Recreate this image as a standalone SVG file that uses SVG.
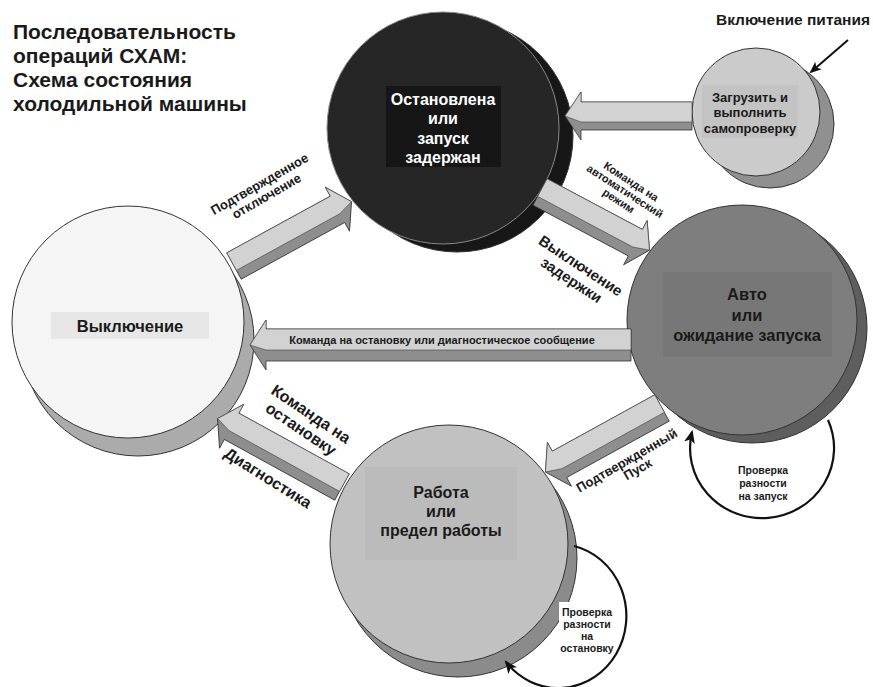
<svg xmlns="http://www.w3.org/2000/svg" width="873" height="687" viewBox="0 0 873 687">
<style>
text{font-family:"Liberation Sans",Arial,sans-serif;font-weight:bold;fill:#1a1a1a}
.title{font-size:21px}
.ctr{text-anchor:middle}
.ln{stroke:#333;stroke-width:1}
.adk{fill:#8e8e8e;stroke:#333;stroke-width:0.8;stroke-linejoin:round}
.alt{fill:#d2d2d2;stroke:#444;stroke-width:0.6;stroke-linejoin:round}
.loop{fill:none;stroke:#111;stroke-width:2.2}
.wt{fill:#fff}
</style>
<defs>
<marker id="ah" viewBox="0 0 12 10" refX="10" refY="5" markerWidth="6" markerHeight="5" orient="auto" markerUnits="strokeWidth">
<path d="M0,0 L12,5 L0,10 L3,5 Z" fill="#111"/>
</marker>
</defs>
<rect width="873" height="687" fill="#fff"/>

<g id="title">
<text class="title" x="13" y="39">Последовательность</text>
<text class="title" x="13" y="63">операций СХАМ:</text>
<text class="title" x="13" y="87">Схема состояния</text>
<text class="title" x="13" y="111">холодильной машины</text>
</g>

<g id="node-off">
<circle cx="138" cy="340" r="116" fill="#ababab" class="ln"/>
<circle cx="128" cy="322" r="116" fill="#f5f5f5" class="ln"/>
<rect x="51" y="312" width="158" height="27" fill="#e7e7e7"/>
<text class="ctr" x="130" y="331.5" font-size="16.5">Выключение</text>
</g>

<g id="node-stopped">
<circle cx="457" cy="136" r="116" fill="#171717" class="ln"/>
<circle cx="443" cy="128" r="116" fill="#262626" stroke="#8a8a8a" stroke-width="1"/>
<rect x="386" y="86" width="115" height="81" fill="#161616"/>
<text class="ctr wt" x="443" y="105" font-size="16">Остановлена</text>
<text class="ctr wt" x="443" y="124" font-size="16">или</text>
<text class="ctr wt" x="443" y="144" font-size="16">запуск</text>
<text class="ctr wt" x="443" y="163" font-size="16">задержан</text>
</g>

<g id="node-boot">
<circle cx="770" cy="124" r="64" fill="#909090" class="ln"/>
<circle cx="756" cy="112" r="64" fill="#cbcbcb" class="ln"/>
<rect x="702" y="85" width="96" height="53" fill="#c3c3c3"/>
<text class="ctr" x="750" y="102" font-size="13">Загрузить и</text>
<text class="ctr" x="750" y="117" font-size="13">выполнить</text>
<text class="ctr" x="750" y="133" font-size="13">самопроверку</text>
</g>

<g id="node-auto">
<circle cx="752" cy="328" r="115" fill="#5e5e5e" class="ln"/>
<circle cx="742" cy="320" r="115" fill="#7e7e7e" class="ln"/>
<rect x="663" y="272" width="169" height="85" fill="#777"/>
<text class="ctr" x="747" y="300" font-size="16.5">Авто</text>
<text class="ctr" x="747" y="321" font-size="16.5">или</text>
<text class="ctr" x="747" y="341" font-size="16.5">ожидание запуска</text>
</g>

<g id="node-run">
<circle cx="458" cy="558" r="119" fill="#8b8b8b" class="ln"/>
<circle cx="449" cy="544" r="119" fill="#c1c1c1" class="ln"/>
<rect x="365" y="467" width="152" height="93" fill="#bbb"/>
<text class="ctr" x="441" y="498" font-size="16">Работа</text>
<text class="ctr" x="441" y="517" font-size="16">или</text>
<text class="ctr" x="441" y="536" font-size="16">предел работы</text>
</g>

<g id="connectors">
<g transform="translate(692,116) scale(-1,1)">
<path class="adk" d="M0,-14 H111 V-24 L127,0 L111,24 V14 H0 Z"/>
<path class="alt" d="M0,-14 H111 V-24 L127,0 L111,6 H0 Z"/>
</g>
<g transform="translate(540,192) rotate(28)">
<path class="adk" d="M0,-15 H108 V-25 L124,0 L108,25 V15 H0 Z"/>
<path class="alt" d="M0,-15 H108 V-25 L124,0 L108,5 H0 Z"/>
</g>
<g transform="translate(234,266) rotate(-28.7)">
<path class="adk" d="M0,-15 H118 V-25 L134,0 L118,25 V15 H0 Z"/>
<path class="alt" d="M0,-15 H118 V-25 L134,0 L118,5 H0 Z"/>
</g>
<g transform="translate(631,345) scale(-1,1)">
<path class="adk" d="M0,-16 H365 V-25 L381,0 L365,25 V16 H0 Z"/>
<path class="alt" d="M0,-16 H365 V-25 L381,0 L365,5 H0 Z"/>
</g>
<g transform="translate(342,487) rotate(208.8) scale(1,-1)">
<path class="adk" d="M0,-15 H126 V-25 L142,0 L126,25 V15 H0 Z"/>
<path class="alt" d="M0,-15 H126 V-25 L142,0 L126,5 H0 Z"/>
</g>
<g transform="translate(662,408) rotate(151.2) scale(1,-1)">
<path class="adk" d="M0,-15 H117 V-25 L133,0 L117,25 V15 H0 Z"/>
<path class="alt" d="M0,-15 H117 V-25 L133,0 L117,5 H0 Z"/>
</g>
<line x1="848" y1="40" x2="811" y2="72" stroke="#111" stroke-width="2" marker-end="url(#ah)"/>
<path class="loop" d="M828,420 A72 70 0 1 1 692,432" marker-end="url(#ah)"/>
<path class="loop" d="M574,546 A68 72 0 1 1 506,662" marker-end="url(#ah)"/>
</g>

<g id="labels">
<text class="ctr" x="793" y="25" font-size="15.5">Включение питания</text>
<text class="ctr" x="442" y="344" font-size="11">Команда на остановку или диагностическое сообщение</text>
<g transform="translate(263,190) rotate(-30)">
<text class="ctr" x="0" y="-2.5" font-size="13">Подтвержденное</text>
<text class="ctr" x="0" y="11.5" font-size="13">отключение</text>
</g>
<g transform="translate(625,191) rotate(33)">
<text class="ctr" x="0" y="-7.5" font-size="11">Команда на</text>
<text class="ctr" x="0" y="4" font-size="11">автоматический</text>
<text class="ctr" x="0" y="15.5" font-size="11">режим</text>
</g>
<g transform="translate(576,273) rotate(33.5)">
<text class="ctr" x="0" y="-3.5" font-size="15">Выключение</text>
<text class="ctr" x="0" y="13.5" font-size="15">задержки</text>
</g>
<g transform="translate(630,466) rotate(-30)">
<text class="ctr" x="0" y="-2" font-size="13">Подтвержденный</text>
<text class="ctr" x="5" y="11" font-size="13">Пуск</text>
</g>
<g transform="translate(306,421.5) rotate(34)">
<text class="ctr" x="0" y="-3.5" font-size="16">Команда на</text>
<text class="ctr" x="0" y="14.5" font-size="16">остановку</text>
</g>
<g transform="translate(268,478) rotate(32)">
<text class="ctr" x="0" y="5.5" font-size="16">Диагностика</text>
</g>
<g id="loop-start-label">
<text class="ctr" x="763" y="474" font-size="10.5">Проверка</text>
<text class="ctr" x="763" y="487" font-size="10.5">разности</text>
<text class="ctr" x="763" y="500" font-size="10.5">на запуск</text>
</g>
<g id="loop-stop-label">
<rect x="559" y="602" width="56" height="52" fill="#fff"/>
<text class="ctr" x="587" y="616" font-size="10.5">Проверка</text>
<text class="ctr" x="587" y="628" font-size="10.5">разности</text>
<text class="ctr" x="587" y="640" font-size="10.5">на</text>
<text class="ctr" x="587" y="652" font-size="10.5">остановку</text>
</g>
</g>
</svg>
